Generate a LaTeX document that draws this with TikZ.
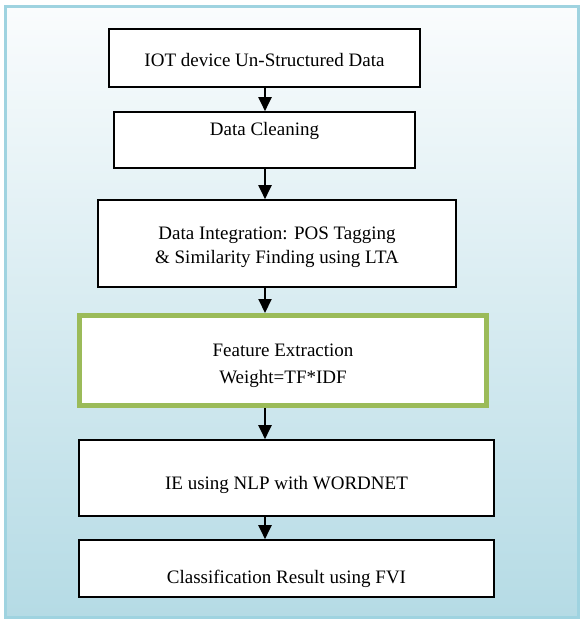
\documentclass[tikz,border=0pt]{standalone}
\usepackage{fontspec}
\setmainfont{Liberation Serif}
\usetikzlibrary{arrows.meta}
\definecolor{framec}{HTML}{9FD3E0}
\definecolor{bgtop}{HTML}{FAFCFD}
\definecolor{bgbot}{HTML}{B5DBE5}
\definecolor{greenc}{HTML}{9BBB59}
\begin{document}
\begin{tikzpicture}[x=1pt,y=1pt,
  box/.style={draw=black, line width=1.6pt, fill=white, rectangle, inner sep=0pt,
    font=\fontsize{19}{24}\selectfont, align=center},
  flow/.style={-{Triangle[width=13pt,length=14pt]}, line width=2pt, black}]
\useasboundingbox (0,0) rectangle (582,-620);
\path[draw=framec, line width=3pt, top color=bgtop, bottom color=bgbot] (5,-7) rectangle (578,-617);
\coordinate (ax) at (265,0);
\node[box, minimum width=311pt, minimum height=58pt, text height=20.6pt, text depth=4pt] (n1) at (264.5,-58) {IOT device Un-Structured Data};
\node[box, minimum width=301pt, minimum height=56pt, text height=13pt, text depth=22.4pt] (n2) at (264.5,-140) {Data Cleaning};
\node[box, minimum width=358pt, minimum height=87pt] (n3) at (277,-243.5) {\rule{0pt}{21pt}Data Integration: POS Tagging\\ \& Similarity Finding using LTA};
\node[box, draw=greenc, line width=5pt, minimum width=407pt, minimum height=90pt] (n4) at (283,-360.5) {\rule{0pt}{23pt}Feature Extraction\\[3pt] Weight=TF*IDF};
\node[box, minimum width=415pt, minimum height=76pt, text height=26.6pt, text depth=4pt] (n5) at (286.5,-478) {IE using NLP with WORDNET};
\node[box, minimum width=415pt, minimum height=57pt, text height=33.6pt, text depth=4pt] (n6) at (286.5,-568.5) {Classification Result using FVI};
\draw[flow] (n1.south -| ax) -- (n2.north -| ax);
\draw[flow] (n2.south -| ax) -- (n3.north -| ax);
\draw[flow] (n3.south -| ax) -- (n4.north -| ax);
\draw[flow] (n4.south -| ax) -- (n5.north -| ax);
\draw[flow] (n5.south -| ax) -- (n6.north -| ax);
\end{tikzpicture}
\end{document}
